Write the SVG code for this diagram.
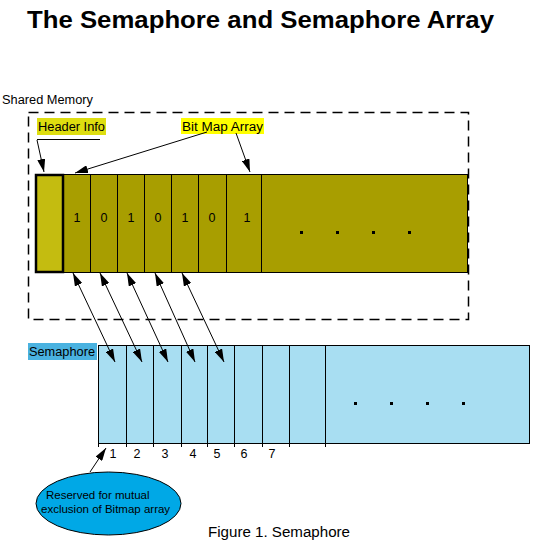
<svg xmlns="http://www.w3.org/2000/svg" width="534" height="544" viewBox="0 0 534 544">
<defs>
<marker id="ah" viewBox="0 0 13 8" refX="13" refY="4" markerWidth="13" markerHeight="8" markerUnits="userSpaceOnUse" orient="auto-start-reverse">
<path d="M0,0 L13,4 L0,8 Z" fill="#000"/>
</marker>
</defs>
<style>
text{font-family:"Liberation Sans",Arial,sans-serif;fill:#000}
.lbl{font-size:12px}
.dig{font-size:12.5px;text-anchor:middle}
.ln{stroke:#000;stroke-width:1;fill:none}
.arr{stroke:#000;stroke-width:1;fill:none;marker-end:url(#ah)}
.darr{stroke:#000;stroke-width:1;fill:none;marker-start:url(#ah);marker-end:url(#ah)}
.bm{fill:#a89e00;stroke:#000;stroke-width:1}
.sem{fill:#a8def2;stroke:#000;stroke-width:1}
</style>
<rect width="534" height="544" fill="#fff"/>
<text x="27" y="28" font-size="23" font-weight="bold" textLength="467" lengthAdjust="spacingAndGlyphs">The Semaphore and Semaphore Array</text>
<text x="2" y="104" class="lbl" textLength="91" lengthAdjust="spacingAndGlyphs">Shared Memory</text>
<rect x="28.5" y="112.5" width="440" height="207" fill="none" stroke="#000" stroke-width="1.5" stroke-dasharray="10,6"/>

<g id="header-info">
<rect x="37" y="118" width="69" height="17" fill="#dede10"/>
<text x="38" y="131" class="lbl" textLength="67" lengthAdjust="spacingAndGlyphs">Header Info</text>
<line x1="37" y1="139.5" x2="100" y2="139.5" class="ln"/>
</g>
<g id="bitmap-label">
<rect x="181" y="118" width="83" height="16" fill="#ffff00"/>
<text x="182" y="131" class="lbl" textLength="81" lengthAdjust="spacingAndGlyphs">Bit Map Array</text>
</g>

<g id="bitmap-array">
<rect x="63.5" y="174.5" width="404" height="98" class="bm"/>
<path d="M90.5,174.5V272.5M117.5,174.5V272.5M144.5,174.5V272.5M171.5,174.5V272.5M198.5,174.5V272.5M226.5,174.5V272.5M261.5,174.5V272.5" class="ln"/>
<text x="77" y="222" class="dig">1</text>
<text x="104" y="222" class="dig">0</text>
<text x="131" y="222" class="dig">1</text>
<text x="158" y="222" class="dig">0</text>
<text x="185" y="222" class="dig">1</text>
<text x="212" y="222" class="dig">0</text>
<text x="247" y="222" class="dig">1</text>
<rect x="300" y="231" width="3" height="3" fill="#000"/>
<rect x="336" y="231" width="3" height="3" fill="#000"/>
<rect x="372" y="231" width="3" height="3" fill="#000"/>
<rect x="408" y="231" width="3" height="3" fill="#000"/>
</g>
<g id="header-cell">
<rect x="36" y="175" width="27" height="97" fill="#c4bc10" stroke="#000" stroke-width="2.5"/>
</g>

<g id="semaphore-label">
<rect x="28" y="343" width="69" height="17" fill="#4ab2e0"/>
<text x="29" y="356" class="lbl" textLength="66" lengthAdjust="spacingAndGlyphs">Semaphore</text>
</g>

<g id="semaphore-array">
<rect x="98.5" y="345.5" width="431" height="98" class="sem"/>
<path d="M98.5,443.5V447M126.5,345.5V447M153.5,345.5V447M181.5,345.5V447M207.5,345.5V447M234.5,345.5V447M262.5,345.5V447M289.5,345.5V447M325.5,345.5V447" class="ln"/>
<rect x="354" y="402" width="3" height="3" fill="#000"/>
<rect x="390" y="402" width="3" height="3" fill="#000"/>
<rect x="426" y="402" width="3" height="3" fill="#000"/>
<rect x="462" y="402" width="3" height="3" fill="#000"/>
<text x="113" y="458" class="dig">1</text>
<text x="137" y="458" class="dig">2</text>
<text x="165" y="458" class="dig">3</text>
<text x="193" y="458" class="dig">4</text>
<text x="217" y="458" class="dig">5</text>
<text x="244" y="458" class="dig">6</text>
<text x="272" y="458" class="dig">7</text>
</g>

<g id="note">
<ellipse cx="108.5" cy="503.5" rx="72.5" ry="31.5" fill="#00a8e6" stroke="#000" stroke-width="1"/>
<text x="46" y="499" font-size="11.5">Reserved for mutual</text>
<text x="41" y="513" font-size="11.5">exclusion of Bitmap array</text>
</g>

<text x="208" y="537" font-size="14" textLength="142" lengthAdjust="spacingAndGlyphs">Figure 1. Semaphore</text>

<g id="connectors">
<line x1="37" y1="140" x2="44" y2="172" class="arr"/>
<line x1="207" y1="132" x2="75" y2="173" class="arr"/>
<line x1="236" y1="133" x2="250" y2="172" class="arr"/>
<line x1="73" y1="273" x2="115" y2="362" class="darr"/>
<line x1="100" y1="273" x2="142" y2="362" class="darr"/>
<line x1="127" y1="273" x2="168" y2="362" class="darr"/>
<line x1="155" y1="273" x2="195" y2="362" class="darr"/>
<line x1="182" y1="273" x2="224" y2="362" class="darr"/>
<line x1="90" y1="472" x2="106" y2="448" class="arr"/>
</g>
</svg>
